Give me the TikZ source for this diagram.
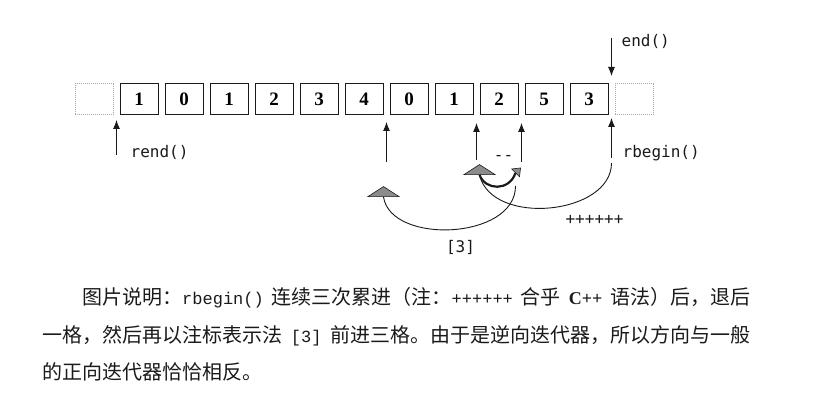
\documentclass[tikz,border=0pt]{standalone}
\usepackage{fontspec}
\setmainfont{Liberation Serif}
\newfontfamily\cjkfont{Noto Sans CJK SC}
\newfontfamily\labelfont{DejaVu Sans Mono}
\newfontfamily\codefont{Liberation Mono}
\usepackage{tikz}
\usetikzlibrary{positioning,arrows.meta,calc,shapes.geometric}
\definecolor{cInk}{HTML}{1A1A1A}
\definecolor{cGhost}{HTML}{A8A8A8}
\definecolor{cTip}{HTML}{8C8C8C}
\tikzset{
  it/cell/.style ={draw=cInk, line width=1pt, outer sep=0pt, inner sep=0pt,
                   minimum width=38pt, minimum height=31pt,
                   font=\fontsize{19}{19}\selectfont\bfseries},
  it/ghost/.style={it/cell, draw=cGhost, densely dotted},
  it/ptr/.style  ={-{Latex[length=9pt, width=7pt]}, line width=0.9pt, cInk},
  it/jump/.style ={line width=0.9pt, cInk},
  it/tri/.style  ={isosceles triangle, isosceles triangle stretches,
                   shape border rotate=90, draw=cInk, fill=cTip, line width=0.6pt,
                   inner sep=0pt, minimum width=31pt, minimum height=10pt},
  it/lbl/.style  ={font=\labelfont\fontsize{16}{16}\selectfont, inner sep=0pt, text=cInk},
  it/cap/.style  ={font=\cjkfont\fontsize{20}{20}\selectfont, inner sep=0pt,
                   anchor=base west, text=cInk}
}
\newcommand{\srccode}[1]{{\codefont\fontsize{17}{17}\selectfont #1}}
\newcommand{\cppname}{{\rmfamily\fontsize{18}{18}\selectfont\bfseries C++}}

\begin{document}
\begin{tikzpicture}[x=1pt, y=-1pt]
    \useasboundingbox (0,0) rectangle (817,411);

    % --- the container: one ghost slot on each side ---
    \node[it/ghost] (b0) at (94,99.5) {};
    \node[it/cell, right=7pt of b0]  (b1)  {1};
    \node[it/cell, right=7pt of b1]  (b2)  {0};
    \node[it/cell, right=7pt of b2]  (b3)  {1};
    \node[it/cell, right=7pt of b3]  (b4)  {2};
    \node[it/cell, right=7pt of b4]  (b5)  {3};
    \node[it/cell, right=7pt of b5]  (b6)  {4};
    \node[it/cell, right=7pt of b6]  (b7)  {0};
    \node[it/cell, right=7pt of b7]  (b8)  {1};
    \node[it/cell, right=7pt of b8]  (b9)  {2};
    \node[it/cell, right=7pt of b9]  (b10) {5};
    \node[it/cell, right=7pt of b10] (b11) {3};
    \node[it/ghost, right=7pt of b11] (b12) {};

    % --- gaps the iterators point at ---
    \coordinate (g1)  at ($(b0.east)!.5!(b1.west)$);
    \coordinate (g7)  at ($(b6.east)!.5!(b7.west)$);
    \coordinate (g9)  at ($(b8.east)!.5!(b9.west)$);
    \coordinate (g10) at ($(b9.east)!.5!(b10.west)$);
    \coordinate (g12) at ($(b11.east)!.5!(b12.west)$);

    \coordinate (endtail)    at ($(g12)+(0,-61.5)$);
    \coordinate (rendtail)   at ($(g1)+(0,55.5)$);
    \coordinate (p7tail)     at ($(g7)+(0,62.5)$);
    \coordinate (p9tail)     at ($(g9)+(0,60.5)$);
    \coordinate (p10tail)    at ($(g10)+(0,62.5)$);
    \coordinate (rbegintail) at ($(g12)+(0,58.5)$);

    % --- pointers ---
    \draw[it/ptr, shorten >=8pt] (endtail) -- (endtail |- b12.north);
    \draw[it/ptr, shorten >=5pt] (rendtail) -- (rendtail |- b1.south);
    \draw[it/ptr, shorten >=7pt] (p7tail) -- (p7tail |- b7.south);
    \draw[it/ptr, shorten >=8pt] (p9tail) -- (p9tail |- b9.south);
    \draw[it/ptr, shorten >=8pt] (p10tail) -- (p10tail |- b10.south);
    \draw[it/ptr, shorten >=3pt] (rbegintail) -- (rbegintail |- b12.south);

    \node[it/lbl, anchor=base west] (endlbl)    at ($(endtail)+(10,9)$)    {end()};
    \node[it/lbl, anchor=base west] (rendlbl)   at ($(rendtail)+(14,3)$)   {rend()};
    \node[it/lbl, anchor=base west] (rbeginlbl) at ($(rbegintail)+(11,0)$) {rbegin()};
    \node[it/lbl] (declbl) at ($(p9tail)!.6!(p10tail)+(0,-3)$) {-{}-};

    % --- moves: ++ three times, -- once, then [3] ---
    \node[it/tri] (t9) at ($(p9tail)+(3,10)$) {};
    \node[it/tri] (t7) at ($(p7tail)+(-3,30)$) {};
    \node[it/tri, minimum width=11pt, minimum height=7pt, rotate=-45]
         (t10) at ($(p10tail)+(-4,9)$) {};

    \coordinate (rbegincurve) at ($(rbegintail)+(0,5)$);
    \coordinate (jumptail)    at ($(p10tail)+(-6,24)$);
    \draw[it/jump] (rbegincurve) .. controls +(0,52) and +(12,52) .. (t9.south);
    \draw[it/jump] (jumptail) .. controls +(0,54) and +(7,48) .. (t7.south);
    \draw[it/jump, line width=2.2pt] (t9.south) .. controls +(6,16) and +(-6,18) .. (t10.south);

    \node[it/lbl] (inclbl) at ($(rbegincurve)+(-17,57)$) {++++++};
    \node[it/lbl] (idxlbl) at ($(t7.south)+(77,51)$) {[3]};

    % --- caption ---
    \node[it/cap] (cap1) at (82,305)
         {\makebox[668pt][s]{图片说明：\srccode{rbegin()} 连续三次累进（注：\srccode{++++++} 合乎 \cppname{} 语法）后，退后}};
    \node[it/cap] (cap2) at (42,343)
         {\makebox[708pt][s]{一格，然后再以注标表示法 \srccode{[3]} 前进三格。由于是逆向迭代器，所以方向与一般}};
    \node[it/cap] (cap3) at (42,380) {的正向迭代器恰恰相反。};
\end{tikzpicture}
\end{document}
